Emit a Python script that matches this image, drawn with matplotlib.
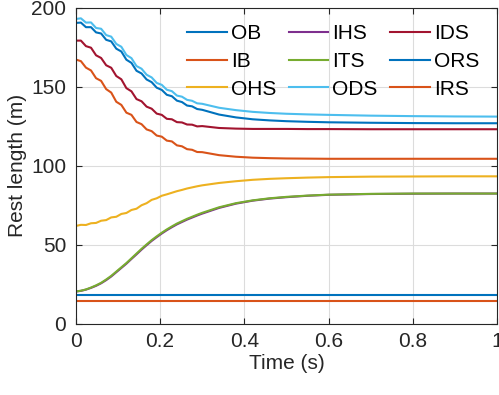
import matplotlib
matplotlib.use("Agg")
import matplotlib.pyplot as plt
import numpy as np

plt.rcParams['font.family'] = ['Liberation Sans', 'DejaVu Sans']

# time samples (s)
t = [0, 0.012, 0.024, 0.036, 0.048, 0.060, 0.072, 0.084, 0.096, 0.108, 0.120, 0.132, 0.144,
     0.156, 0.168, 0.180, 0.192, 0.204, 0.216, 0.228, 0.240, 0.252, 0.264, 0.276, 0.288, 0.300,
     0.34, 0.38, 0.42, 0.46, 0.50, 0.55, 0.6, 0.7, 0.8, 0.9, 1.0]

# rest lengths (m)
OB = [190.5, 190.7, 187.8, 187.8, 184.5, 183.8, 179.8, 178.8, 174.2, 172.4, 167.2, 165.2, 160.2,
      158.5, 154.7, 153.0, 149.5, 148.1, 145.0, 144.1, 141.3, 140.4, 138.2, 137.7, 136.0, 135.5,
      132.5, 130.7, 129.5, 128.8, 128.3, 127.9, 127.6, 127.3, 127.1, 127.0, 127.0]
IB = [167.3, 166.3, 162.2, 160.4, 155.5, 153.8, 148.6, 146.4, 140.6, 138.6, 133.7, 132.3, 127.8,
      126.4, 123.1, 122.0, 119.2, 118.5, 116.0, 115.5, 113.0, 112.4, 110.6, 110.2, 108.8, 108.7,
      106.8, 105.8, 105.2, 104.9, 104.7, 104.6, 104.5, 104.5, 104.5, 104.5, 104.5]
OHS = [62.0, 62.7, 62.6, 63.7, 63.9, 65.3, 65.7, 67.4, 67.8, 69.6, 70.2, 72.1, 72.9,
       75.1, 76.4, 78.5, 79.5, 81.1, 82.0, 83.0, 84.0, 84.8, 85.7, 86.4, 87.1, 87.7,
       89.2, 90.3, 91.2, 91.8, 92.2, 92.6, 92.9, 93.2, 93.3, 93.4, 93.4]
IHS = [20.5, 20.9, 21.7, 22.8, 24.1, 25.7, 27.7, 30.0, 32.7, 35.4, 38.1, 41.1, 44.0,
       47.0, 49.8, 52.5, 54.9, 57.2, 59.3, 61.2, 63.0, 64.5, 66.0, 67.3, 68.6, 69.8,
       73.4, 76.1, 78.0, 79.3, 80.2, 81.1, 81.7, 82.2, 82.4, 82.5, 82.5]
ITS = [20.5, 21.0, 21.8, 23.0, 24.4, 26.0, 28.1, 30.4, 33.1, 35.8, 38.5, 41.5, 44.5,
       47.5, 50.3, 53.0, 55.4, 57.7, 59.8, 61.7, 63.5, 65.0, 66.5, 67.8, 69.1, 70.3,
       73.8, 76.4, 78.2, 79.5, 80.4, 81.2, 81.8, 82.3, 82.5, 82.5, 82.5]
ODS = [193.0, 193.4, 190.7, 190.8, 187.3, 186.8, 182.8, 181.8, 177.2, 175.4, 170.2, 168.2, 163.2,
       161.5, 157.7, 156.0, 152.5, 151.3, 148.2, 147.3, 144.5, 143.8, 141.8, 141.2, 139.6, 139.3,
       136.8, 135.3, 134.2, 133.5, 133.0, 132.6, 132.3, 131.8, 131.5, 131.3, 131.2]
IDS = [179.3, 179.3, 175.8, 174.8, 170.0, 168.3, 163.7, 162.1, 156.9, 154.8, 149.2, 147.2, 142.3,
       140.9, 137.5, 136.2, 133.1, 132.3, 129.8, 129.5, 127.7, 127.5, 126.2, 126.1, 125.0, 125.2,
       124.0, 123.6, 123.4, 123.4, 123.4, 123.3, 123.3, 123.2, 123.2, 123.2, 123.2]
ORS = [18.5] * len(t)
IRS = [14.7] * len(t)

names = ['OB', 'IB', 'OHS', 'IHS', 'ITS', 'ODS', 'IDS', 'ORS', 'IRS']
series = [OB, IB, OHS, IHS, ITS, ODS, IDS, ORS, IRS]
colors = ['#0072BD', '#D95319', '#EDB120', '#7E2F8E', '#77AC30', '#4DBEEE', '#A2142F',
          '#0072BD', '#D95319']

fs = 15
fig = plt.figure(figsize=(4.99, 3.95), dpi=100)
ax = fig.add_axes([0.152, 0.180, 0.844, 0.800])

for name, y, c in zip(names, series, colors):
    ax.plot(t, y, color=c, lw=1.5, label=name)

ax.set_xlim(0, 1)
ax.set_ylim(0, 200)
ax.set_xticks(np.arange(0, 1.01, 0.2))
ax.set_xticklabels(['0', '0.2', '0.4', '0.6', '0.8', '1'])
ax.set_yticks([0, 50, 100, 150, 200])
ax.grid(True, color='#dcdcdc', lw=0.8)
ax.set_axisbelow(True)
ax.tick_params(direction='in', top=True, right=True, labelsize=fs, colors='#262626',
               length=4)
ax.tick_params(axis='x', pad=6)
ax.tick_params(axis='y', pad=7)
for s in ax.spines.values():
    s.set_color('#262626')
    s.set_linewidth(0.8)
ax.set_xlabel('Time (s)', fontsize=fs, color='#262626', labelpad=2)
ax.set_ylabel('Rest length (m)', fontsize=fs, color='#262626', labelpad=3)

ax.legend(ncol=3, loc='upper right', bbox_to_anchor=(0.978, 0.975), frameon=False,
          fontsize=fs, handlelength=1.9, handletextpad=0.2, columnspacing=0.6,
          labelspacing=0.42, borderaxespad=0)

fig.savefig('out.png', dpi=100)
